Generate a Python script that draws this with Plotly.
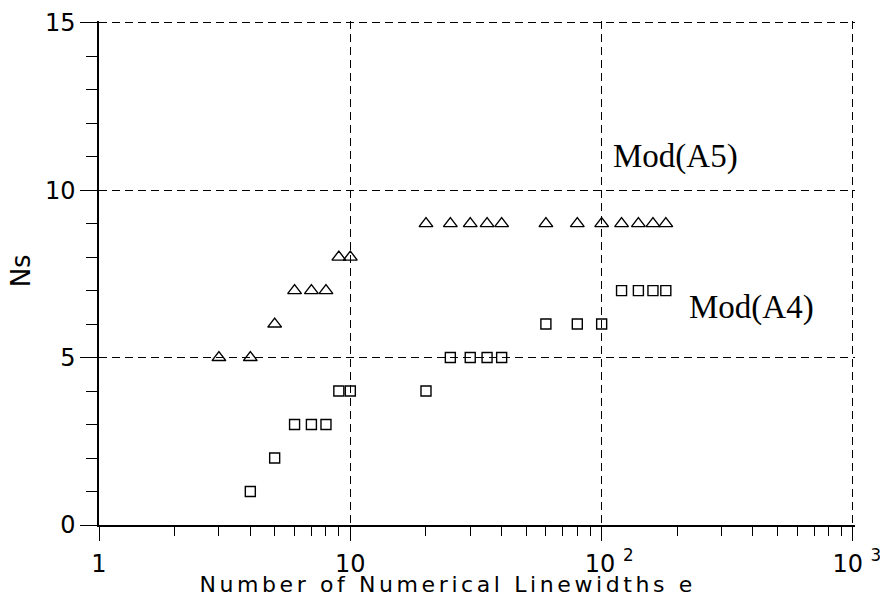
import plotly.graph_objects as go

# ---- data ----
a5_x = [3, 4, 5, 6, 7, 8, 9, 10, 20, 25, 30, 35, 40, 60, 80, 100, 120, 140, 160, 180]
a5_y = [5, 5, 6, 7, 7, 7, 8, 8, 9, 9, 9, 9, 9, 9, 9, 9, 9, 9, 9, 9]

a4_x = [4, 5, 6, 7, 8, 9, 10, 20, 25, 30, 35, 40, 60, 80, 100, 120, 140, 160, 180]
a4_y = [1, 2, 3, 3, 3, 4, 4, 4, 5, 5, 5, 5, 6, 6, 6, 7, 7, 7, 7]

x_tickvals = [1, 10, 100, 1000]
x_ticktext = ["1", "10", "\u00a0\u00a010 <sup>2</sup>", "\u00a010 <sup>3</sup>"]
y_tickvals = [0, 5, 10, 15]
y_ticktext = ["0", "5", "10", "15"]

x_title = "Number of Numerical Linewidths e"
y_title = "Ns"
label_a5 = "Mod(A5)"
label_a4 = "Mod(A4)"

SANS = "DejaVu Sans"
SERIF = "Liberation Serif"

fig = go.Figure()
fig.add_trace(go.Scatter(
    x=a5_x, y=a5_y, mode="markers", name=label_a5,
    marker=dict(symbol="triangle-up-open", size=12, color="black",
                line=dict(width=1.4, color="black")),
))
fig.add_trace(go.Scatter(
    x=a4_x, y=a4_y, mode="markers", name=label_a4,
    marker=dict(symbol="square-open", size=10, color="black",
                line=dict(width=1.4, color="black")),
))

fig.update_xaxes(
    type="log", range=[0, 3.008], automargin=False,
    tickmode="array", tickvals=x_tickvals, ticktext=x_ticktext,
    ticklabeloverflow="allow", ticklabelstandoff=2,
    ticks="outside", ticklen=14, tickwidth=1.3, tickcolor="black",
    tickfont=dict(family=SANS, size=24, color="black"),
    showline=True, linecolor="black", linewidth=1.5,
    showgrid=True, gridcolor="black", gridwidth=1.3, griddash="8px,5px",
    zeroline=False,
    minor=dict(dtick="D1", ticks="outside", ticklen=9, tickwidth=1.3,
               tickcolor="black", showgrid=False),
)
fig.update_yaxes(
    range=[0, 15.05], automargin=False,
    tickmode="array", tickvals=y_tickvals, ticktext=y_ticktext,
    ticklabeloverflow="allow",
    ticks="outside", ticklen=17, tickwidth=1.3, tickcolor="black",
    tickfont=dict(family=SANS, size=24, color="black"),
    showline=True, linecolor="black", linewidth=1.5,
    showgrid=True, gridcolor="black", gridwidth=1.3, griddash="8px,5px",
    zeroline=False,
    minor=dict(dtick=1, ticks="outside", ticklen=11, tickwidth=1.3,
               tickcolor="black", showgrid=False),
)

fig.add_annotation(text=label_a5, xref="paper", yref="paper", x=0.763, y=0.7316,
                   showarrow=False, xanchor="center", yanchor="middle",
                   font=dict(family=SERIF, size=33, color="black"))
fig.add_annotation(text=label_a4, xref="paper", yref="paper", x=0.8634, y=0.4314,
                   showarrow=False, xanchor="center", yanchor="middle",
                   font=dict(family=SERIF, size=33, color="black"))
fig.add_annotation(text=x_title, xref="paper", yref="paper", x=0.4615, y=-0.119,
                   showarrow=False, xanchor="center", yanchor="middle",
                   font=dict(family=SANS, size=22, color="black"))
fig.add_annotation(text=y_title, xref="paper", yref="paper", x=-0.102, y=0.505,
                   showarrow=False, xanchor="center", yanchor="middle", textangle=-90,
                   font=dict(family=SANS, size=26, color="black"))

fig.update_layout(
    width=880, height=597,
    margin=dict(l=99, r=25, t=21, b=72, pad=0, autoexpand=False),
    paper_bgcolor="white", plot_bgcolor="white",
    showlegend=False,
)

post = """
document.body.style.margin = '0';
var gd = document.getElementById('{plot_id}');
gd.querySelectorAll('.annotation-text').forEach(function(t){
  if (t.textContent.indexOf('Number') === 0) { t.style.letterSpacing = '3.6px'; }
});
"""
fig.write_html("out.html", post_script=post, config={"displayModeBar": False})
